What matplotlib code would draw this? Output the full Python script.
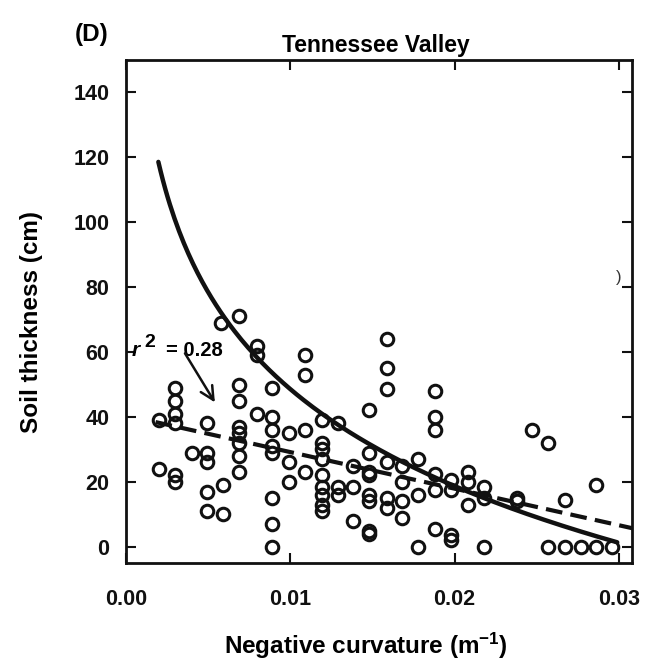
import numpy as np
import matplotlib
matplotlib.use("Agg")
import matplotlib.pyplot as plt
from matplotlib.transforms import offset_copy

plt.rcParams['font.family'] = ['Liberation Sans', 'DejaVu Sans']
plt.rcParams['font.weight'] = 'bold'
plt.rcParams['mathtext.fontset'] = 'custom'
plt.rcParams['mathtext.rm'] = 'Liberation Sans:bold'
plt.rcParams['mathtext.it'] = 'Liberation Sans:italic:bold'
plt.rcParams['mathtext.bf'] = 'Liberation Sans:bold'

# ---- data (negative curvature in 1/m, soil thickness in cm) ----
curv = [
    0.0020, 0.0020,
    0.0030, 0.0030, 0.0030, 0.0030, 0.0030, 0.0030,
    0.0040,
    0.0049, 0.0049, 0.0049, 0.0049, 0.0049,
    0.0058, 0.0059, 0.0059,
    0.0069, 0.0069, 0.0069, 0.0069, 0.0069, 0.0069, 0.0069, 0.0069,
    0.0080, 0.0080, 0.0080,
    0.0089, 0.0089, 0.0089, 0.0089, 0.0089, 0.0089, 0.0089, 0.0089,
    0.0099, 0.0099, 0.0099,
    0.0109, 0.0109, 0.0109, 0.0109,
    0.0119, 0.0119, 0.0119, 0.0119, 0.0119, 0.0119, 0.0119, 0.0119, 0.0119,
    0.0129, 0.0129, 0.0129,
    0.0138, 0.0138, 0.0138,
    0.0148, 0.0148, 0.0148, 0.0148, 0.0148, 0.0148, 0.0148, 0.0148,
    0.0159, 0.0159, 0.0159, 0.0159, 0.0159, 0.0159,
    0.0168, 0.0168, 0.0168, 0.0168,
    0.0178, 0.0178, 0.0178,
    0.0188, 0.0188, 0.0188, 0.0188, 0.0188, 0.0188,
    0.0198, 0.0198, 0.0198, 0.0198,
    0.0208, 0.0208, 0.0208,
    0.0218, 0.0218, 0.0218,
    0.0238, 0.0238,
    0.0247,
    0.0257, 0.0257,
    0.0267, 0.0267,
    0.0277,
    0.0286, 0.0286,
    0.0296,
]
thick = [
    39, 24,
    49, 45, 41, 38, 22, 20,
    29,
    38, 29, 26, 17, 11,
    69, 19, 10,
    71, 50, 45, 37, 35, 32, 28, 23,
    62, 59, 41,
    49, 40, 36, 31, 29, 15, 7, 0,
    35, 26, 20,
    59, 53, 36, 23,
    39, 32, 30, 27, 22, 18.5, 16, 13, 11,
    38, 18.5, 16,
    25, 18.5, 8,
    42, 29, 23, 22, 16, 14, 5, 4,
    64, 55, 48.5, 26, 15, 12,
    25, 20, 14, 9,
    27, 16, 0,
    48, 40, 36, 22.5, 17.5, 5.5,
    20.5, 17.5, 3.5, 2,
    23, 20, 13,
    18.5, 15, 0,
    15, 14,
    36,
    32, 0,
    14.5, 0,
    0,
    19, 0,
    0,
]

# fitted curves: logarithmic (solid) and linear (dashed)
log_a, log_b = -149.9, -43.1
log_xrange = (0.00197, 0.0299)
lin_a, lin_b = 40.45, -1127.0
lin_xrange = (0.0018, 0.0310)
r2_label = "= 0.28"

xticks = [0.00, 0.01, 0.02, 0.03]
xticklabels = ["0.00", "0.01", "0.02", "0.03"]
yticks = [0, 20, 40, 60, 80, 100, 120, 140]

# ---- figure ----
fig = plt.figure(figsize=(6.48, 6.61), dpi=100)
ax = fig.add_axes([126/648, 1-563/661, (632-126)/648, (563-60)/661])

ax.plot(curv, thick, linestyle='none', marker='o', ms=9.0, mew=2.2,
        mfc='none', mec='#111111', zorder=3)

xs = np.linspace(*log_xrange, 200)
ax.plot(xs, log_a + log_b*np.log(xs), color='#111111', lw=3.2,
        solid_capstyle='round', zorder=4)
xl = np.linspace(*lin_xrange, 50)
ax.plot(xl, lin_a + lin_b*xl, color='#111111', lw=3.0,
        linestyle=(0, (4, 2)), zorder=4)

ax.set_xlim(0, 0.0308)
ax.set_ylim(-5, 150)
ax.set_xticks(xticks)
ax.set_xticklabels(xticklabels)
ax.set_yticks(yticks)

for s in ax.spines.values():
    s.set_linewidth(2.0)
    s.set_color('#111111')
ax.tick_params(direction='in', length=7, width=1.5, top=True, right=True,
               labelsize=15.5, colors='#111111')
ax.tick_params(axis='x', pad=19)
ax.tick_params(axis='y', pad=12)
for lab in ax.get_xticklabels() + ax.get_yticklabels():
    lab.set_fontweight('bold')

ax.set_xlabel(r"Negative curvature (m$^{-1}$)", fontsize=17.5, fontweight='bold')
ax.xaxis.set_label_coords(0.474, -0.134)
ax.set_ylabel("Soil thickness (cm)", fontsize=17.5, fontweight='bold')
ax.yaxis.set_label_coords(-0.164, 0.479)

ax.text(0.493, 1.016, "Tennessee Valley", transform=ax.transAxes,
        ha='center', va='baseline', fontsize=16.5, fontweight='bold')
fig.text(75/648, 1-41/661, "(D)", ha='left', va='baseline',
         fontsize=17.5, fontweight='bold')

# r^2 annotation
tx, ty = 0.00035, 58.7
ax.text(tx, ty, "r", fontsize=15, fontweight='bold', style='italic',
        ha='left', va='baseline')
ax.text(tx, ty, "2", fontsize=14, fontweight='bold', ha='left', va='baseline',
        transform=offset_copy(ax.transData, fig=fig, x=9.0, y=6.5, units='points'))
ax.text(tx, ty, r2_label, fontsize=14.5, fontweight='bold', ha='left', va='baseline',
        transform=offset_copy(ax.transData, fig=fig, x=24.5, y=0, units='points'))
ax.annotate("", xy=(0.00541, 44.5), xytext=(0.00359, 59.6),
            arrowprops=dict(arrowstyle='->', lw=1.8, color='#111111',
                            mutation_scale=24, shrinkA=0, shrinkB=0))

# clipped leftover label fragment at the right edge
ax.text(0.0298, 83, ")", fontsize=12, fontweight='normal', color='#333333',
        ha='left', va='center')

fig.savefig("out.png", dpi=100, facecolor='white')
